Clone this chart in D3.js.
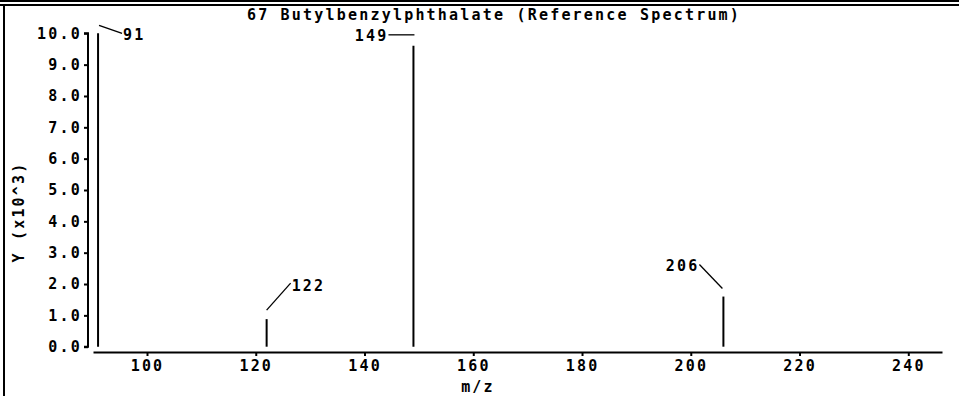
<!DOCTYPE html>
<html>
<head>
<meta charset="utf-8">
<script src="https://cdn.jsdelivr.net/npm/d3@7"></script>
<style>
  html, body { margin: 0; padding: 0; background: #fff; }
  svg { display: block; }
  text { font-family: "DejaVu Sans Mono", "Liberation Mono", monospace; font-size: 15px; font-weight: bold; letter-spacing: 2.2px; fill: #000; }
</style>
</head>
<body>
<svg id="chart" width="959" height="396"></svg>
<script>
// Mass spectrum peaks: m/z and abundance (x10^3)
const mzValues = [91, 122, 149, 206];
const abundance = [10.0, 0.88, 9.6, 1.6];
const peakLabels = ["91", "122", "149", "206"];
const xTicks = [100, 120, 140, 160, 180, 200, 220, 240];
const yTicks = [0, 1, 2, 3, 4, 5, 6, 7, 8, 9, 10];
const title = "67 Butylbenzylphthalate (Reference Spectrum)";
const xTitle = "m/z";
const yTitle = "Y (x10^3)";

const svg = d3.select("#chart");
const W = 959, H = 396;

const x = d3.scaleLinear().domain([90.07, 246.2]).range([93, 942]);
const y = d3.scaleLinear().domain([0, 10]).range([346.7, 33.3]);

// Page frame: double rule across the top, single rule down the left
svg.append("g").attr("shape-rendering", "crispEdges").call(g => {
  g.append("rect").attr("x", 0).attr("y", 0).attr("width", W).attr("height", 2).attr("fill", "#000");
  g.append("rect").attr("x", 0).attr("y", 4).attr("width", W).attr("height", 2).attr("fill", "#000");
  g.append("rect").attr("x", 3).attr("y", 4).attr("width", 2).attr("height", H - 4).attr("fill", "#000");
});

// Title
svg.append("text")
  .attr("x", 494).attr("y", 20)
  .attr("text-anchor", "middle")
  .text(title);

// Y axis
const yAxis = d3.axisLeft(y).tickValues(yTicks).tickSize(4).tickPadding(2)
  .tickFormat(d3.format(".1f"));
const gy = svg.append("g").attr("transform", "translate(88,0)").call(yAxis);
gy.select(".domain").attr("d", `M-4,${y(10)}H0V${y(0)}H-4`).attr("stroke-width", 2);
gy.selectAll(".tick line").attr("stroke-width", 2);
gy.selectAll("text").attr("font-family", null).attr("font-size", null);

// X axis
const xAxis = d3.axisBottom(x).tickValues(xTicks).tickSize(4).tickPadding(4)
  .tickSizeOuter(0).tickFormat(d3.format("d"));
const gx = svg.append("g").attr("transform", "translate(0,352)").call(xAxis);
gx.select(".domain").attr("stroke-width", 2);
gx.selectAll(".tick line").attr("stroke-width", 2);
gx.selectAll("text").attr("font-family", null).attr("font-size", null);

// Axis titles
svg.append("text")
  .attr("x", 478).attr("y", 392)
  .attr("text-anchor", "middle")
  .text(xTitle);
svg.append("text")
  .attr("transform", "translate(24,212) rotate(-90)")
  .attr("text-anchor", "middle")
  .text(yTitle);

// Peaks
const peaks = mzValues.map((mz, i) => ({ mz, v: abundance[i], label: peakLabels[i] }));
svg.append("g").selectAll("line").data(peaks).join("line")
  .attr("x1", d => x(d.mz)).attr("x2", d => x(d.mz))
  .attr("y1", y(0)).attr("y2", d => y(d.v))
  .attr("stroke", "#000").attr("stroke-width", 2);

// Peak annotations with leader lines (offsets from the peak tip)
const leaders = {
  91:  { from: [1, -8],  to: [24, 0],    text: [25, 7],    anchor: "start" },
  122: { from: [0, -9],  to: [24, -36],  text: [25, -28],  anchor: "start" },
  149: { from: [1, -11], to: [-25, -11], text: [-25, -5],  anchor: "end" },
  206: { from: [-1, -8], to: [-24, -32], text: [-24, -26], anchor: "end" }
};
const ann = svg.append("g").selectAll("g").data(peaks).join("g")
  .attr("transform", d => `translate(${x(d.mz)},${y(d.v)})`);
ann.append("line")
  .attr("x1", d => leaders[d.mz].from[0]).attr("y1", d => leaders[d.mz].from[1])
  .attr("x2", d => leaders[d.mz].to[0]).attr("y2", d => leaders[d.mz].to[1])
  .attr("stroke", "#000").attr("stroke-width", 1.3);
ann.append("text")
  .attr("x", d => leaders[d.mz].text[0]).attr("y", d => leaders[d.mz].text[1])
  .attr("text-anchor", d => leaders[d.mz].anchor)
  .text(d => d.label);
</script>
</body>
</html>
